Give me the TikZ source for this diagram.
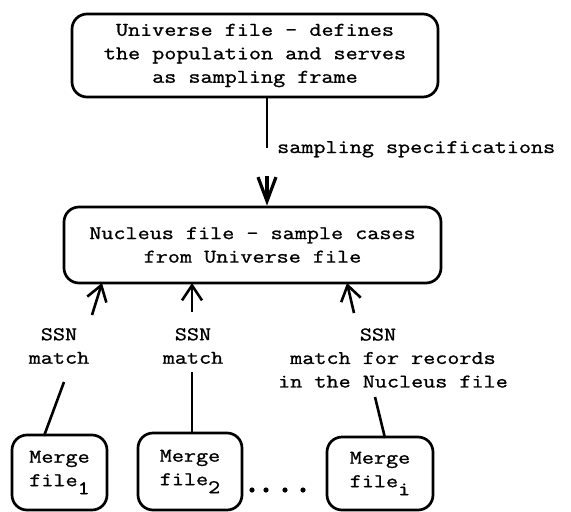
\documentclass[tikz,border=0pt]{standalone}
\usepackage{fontspec}
\setmonofont[FakeStretch=1.21,FakeBold=1.1]{Latin Modern Mono}
\usetikzlibrary{arrows.meta}
\tikzset{
  txt/.style={font=\ttfamily\fontsize{19.4}{23.5}\selectfont, inner sep=0pt, align=center},
  filebox/.style={draw, line width=2.7pt, rounded corners=15pt, inner sep=0pt,
                  font=\ttfamily\fontsize{19.4}{23.5}\selectfont, align=center},
  conn/.style={line width=2.6pt},
  uparr/.style={line width=2.6pt, -{Straight Barb[length=15pt,width=20pt]}},
  downarr/.style={line width=3.2pt, -{Straight Barb[length=24pt,width=18pt]}},
}
\newcommand{\sub}[1]{\raisebox{-8pt}{#1}}
\begin{document}
\begin{tikzpicture}[x=1pt,y=-1pt]
\useasboundingbox (0,0) rectangle (571,512);

% main files
\node[filebox, minimum width=366pt, minimum height=83pt] (univ) at (255,55.5)
  {Universe file – defines\\the population and serves\\as sampling frame};
\node[filebox, minimum width=377pt, minimum height=76pt] (nuc) at (252.5,245)
  {Nucleus file – sample cases\\from Universe file};

% sampling step
\coordinate (s1) at (267,148);
\coordinate (s2) at (267,176);
\draw[conn] (univ.south -| s1) -- (s1);
\draw[downarr] (s2) -- (s2 |- nuc.north);
\node[txt, anchor=base west] (spec) at (277,153) {sampling specifications};

% merge files
\node[filebox, minimum width=95pt, minimum height=75pt] (m1) at (59.5,472.5)
  {Merge\\file\sub{1}};
\node[filebox, minimum width=104pt, minimum height=77pt] (m2) at (190,471.5)
  {Merge\\file\sub{2}};
\node[filebox, minimum width=106pt, minimum height=73pt] (m3) at (380,473.5)
  {Merge\\file\sub{i}};
\foreach \x in {252,266,285,303} \fill (\x,490) circle (2.6pt);

% match labels
\node[txt] (l1) at (59,346) {SSN\\match};
\node[txt] (l2) at (193,346) {SSN\\match};
\node[txt] (l3) at (393,358) {\hspace*{-30pt}SSN\\match for records\\in the Nucleus file};

% arrows up into the nucleus file
\coordinate (a1) at (92,315);  \coordinate (t1) at (102,283);
\coordinate (a2) at (192,312); \coordinate (t2) at (192,283);
\coordinate (a3) at (354,313); \coordinate (t3) at (347,283);
\draw[uparr] (a1) -- (t1);
\draw[uparr] (a2) -- (t2);
\draw[uparr] (a3) -- (t3);

% lines from the labels down to the merge files
\coordinate (b1) at (64,382);  \coordinate (c1) at (44,436);
\coordinate (b2) at (192,372); \coordinate (c2) at (192,434);
\coordinate (b3) at (375,397); \coordinate (c3) at (385,438);
\draw[conn] (b1) -- (c1);
\draw[conn] (b2) -- (c2);
\draw[conn] (b3) -- (c3);
\end{tikzpicture}
\end{document}
